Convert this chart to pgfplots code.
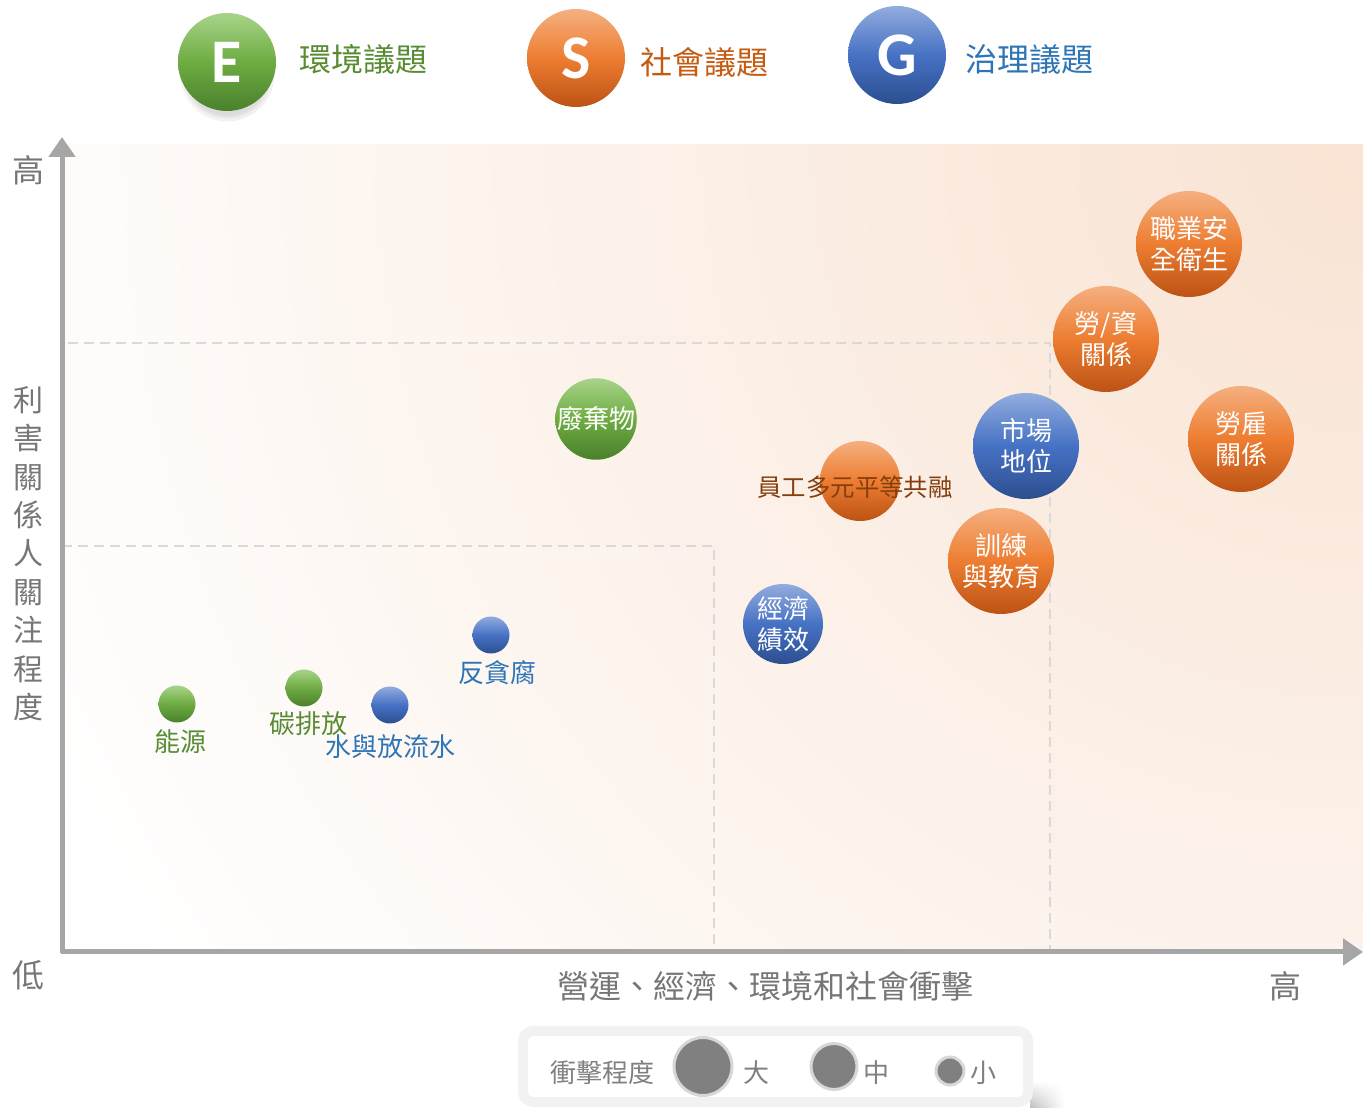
\documentclass[border=0pt]{standalone}
\usepackage{pgfplots}
\pgfplotsset{compat=1.18}
\usepackage{fontspec}
\setmainfont{Noto Sans CJK TC}
\newfontfamily\carlito{Carlito}
\usetikzlibrary{shadows,arrows.meta,fadings}

\definecolor{gTop}{RGB}{168,212,138}
\definecolor{gMid}{RGB}{110,172,66}
\definecolor{gBot}{RGB}{74,128,44}
\definecolor{oTop}{RGB}{245,176,128}
\definecolor{oMid}{RGB}{237,125,49}
\definecolor{oBot}{RGB}{188,82,20}
\definecolor{bTop}{RGB}{146,172,222}
\definecolor{bMid}{RGB}{70,114,196}
\definecolor{bBot}{RGB}{44,78,143}
\definecolor{gText}{RGB}{88,140,50}
\definecolor{oText}{RGB}{197,90,17}
\definecolor{bText}{RGB}{46,117,182}
\definecolor{brownT}{RGB}{132,62,14}
\definecolor{axgray}{RGB}{166,166,166}
\definecolor{txtgray}{RGB}{118,118,118}
\definecolor{dashgray}{RGB}{217,217,217}
\definecolor{legGray}{RGB}{128,128,128}
\definecolor{legBorder}{RGB}{215,215,215}
\definecolor{boxGray}{RGB}{242,242,242}
\definecolor{peachB}{RGB}{249,227,211}

\newcommand\fsB{\fontsize{13}{15.5}\selectfont}
\newcommand\fsT{\fontsize{16}{19}\selectfont}
\newcommand\fsL{\fontsize{13}{15}\selectfont}
\newcommand\fsE{\carlito\bfseries\fontsize{31}{31}\selectfont}

\tikzset{
  gball/.style={circle, top color=gTop, bottom color=gBot, middle color=gMid, text=white},
  oball/.style={circle, top color=oTop, bottom color=oBot, middle color=oMid, text=white},
  bball/.style={circle, top color=bTop, bottom color=bBot, middle color=bMid, text=white},
  lball/.style={circle, fill=legGray, draw=legBorder, line width=1.5pt},
}

% style, size, x, y, text
\newcommand{\bubble}[5]{%
\addplot[only marks, mark=*, mark size=0.01pt, mark options={draw=none,fill=none},
  nodes near coords={#5},
  every node near coord/.append style={inner sep=0pt, anchor=center, align=center, font=\fsB, minimum size=#2, #1}]
  coordinates {(#3,#4)};}

\begin{document}
\begin{tikzpicture}
\begin{axis}[
  scale only axis, width=681.5pt, height=553.5pt,
  xmin=0, xmax=1363, ymin=0, ymax=1107,
  hide axis, clip=false]

% background gradient (radial from the top right corner)
\begin{scope}
\clip (62,155) rectangle (1363,962);
\shade[inner color=peachB, outer color=white] (1363,962) circle[radius=740pt];
\end{scope}

% dashed quadrant lines
\draw[dashgray, line width=1pt, dash pattern=on 5pt off 3pt] (68,764) -- (1050,764) -- (1050,155);
\draw[dashgray, line width=1pt, dash pattern=on 5pt off 3pt] (62,561) -- (714,561) -- (714,155);

% axes arrows
\draw[axgray, line width=2.5pt, -{Triangle[width=13pt,length=10pt]}] (62,153.75) -- (62,970);
\draw[axgray, line width=2.5pt, -{Triangle[width=13pt,length=10pt]}] (60.75,155) -- (1363,155);

% axis texts
\node[text=txtgray, font=\fsT] at (28,937) {高};
\node[text=txtgray, font=\fsT] at (28,132) {低};
\node[text=txtgray, font=\fontsize{15}{19.2}\selectfont, align=center] at (28,553.5) {利\\害\\關\\係\\人\\關\\注\\程\\度};
\node[text=txtgray, font=\fsT] at (765,121) {營運、經濟、環境和社會衝擊};
\node[text=txtgray, font=\fsT] at (1285,121) {高};

% top legend
\bubble{gball, circular drop shadow={shadow xshift=0pt, shadow yshift=-6pt, shadow scale=0.97, opacity=0.28}, font=\fsE}{49pt}{227}{1045}{E}
\bubble{oball, font=\fsE}{49pt}{576}{1049}{S}
\bubble{bball, font=\fsE}{49pt}{897}{1052}{G}
\node[text=gText, font=\fsT] at (363,1048) {環境議題};
\node[text=oText, font=\fsT] at (704,1045) {社會議題};
\node[text=bText, font=\fsT] at (1029,1048) {治理議題};

% large bubbles
\bubble{oball}{53pt}{1189}{863}{職業安\\全衛生}
\bubble{oball}{53pt}{1106}{768}{勞/資\\關係}
\bubble{oball}{53pt}{1241}{668}{勞雇\\關係}
\bubble{bball}{53pt}{1026}{661}{市場\\地位}
\bubble{oball}{53pt}{1001}{546}{訓練\\與教育}
% medium bubbles
\bubble{gball}{40pt}{596}{688}{廢棄物}
\bubble{oball, label={[text=brownT, font=\fontsize{12.2}{14}\selectfont, xshift=-2.5pt, yshift=-3pt]center:員工多元平等共融}}{40pt}{860}{626}{}
\bubble{bball}{40pt}{783}{483}{經濟\\績效}
% small bubbles
\bubble{bball, label={[text=bText, font=\fsL, label distance=0pt, xshift=3pt]below:反貪腐}}{18.5pt}{491}{472}{}
\bubble{gball, label={[text=gText, font=\fsL, label distance=-1pt, xshift=2pt]below:碳排放}}{18.5pt}{304}{419}{}
\bubble{bball, label={[text=bText, font=\fsL, label distance=2pt]below:水與放流水}}{18.5pt}{390}{402}{}
\bubble{gball, label={[text=gText, font=\fsL, label distance=0pt, xshift=1.5pt]below:能源}}{18.5pt}{177}{403}{}

% bottom legend box with its shadow
\shade[left color=black!25, right color=white, path fading=north] (1030,26) rectangle (1064,0);
\draw[boxGray, line width=5pt, fill=white, rounded corners=5pt] (523,76) rectangle (1028,5);
\node[text=legGray, font=\fsL] at (602,34) {衝擊程度};
\bubble{lball}{29pt}{703}{40.5}{}
\bubble{lball}{23pt}{834}{40.5}{}
\bubble{lball}{14pt}{950}{36}{}
\node[text=legGray, font=\fsL] at (756,34) {大};
\node[text=legGray, font=\fsL] at (876,34) {中};
\node[text=legGray, font=\fsL] at (983,34) {小};
\end{axis}
\pgfresetboundingbox
\path (current axis.south west) rectangle (current axis.north east);
\end{tikzpicture}
\end{document}
